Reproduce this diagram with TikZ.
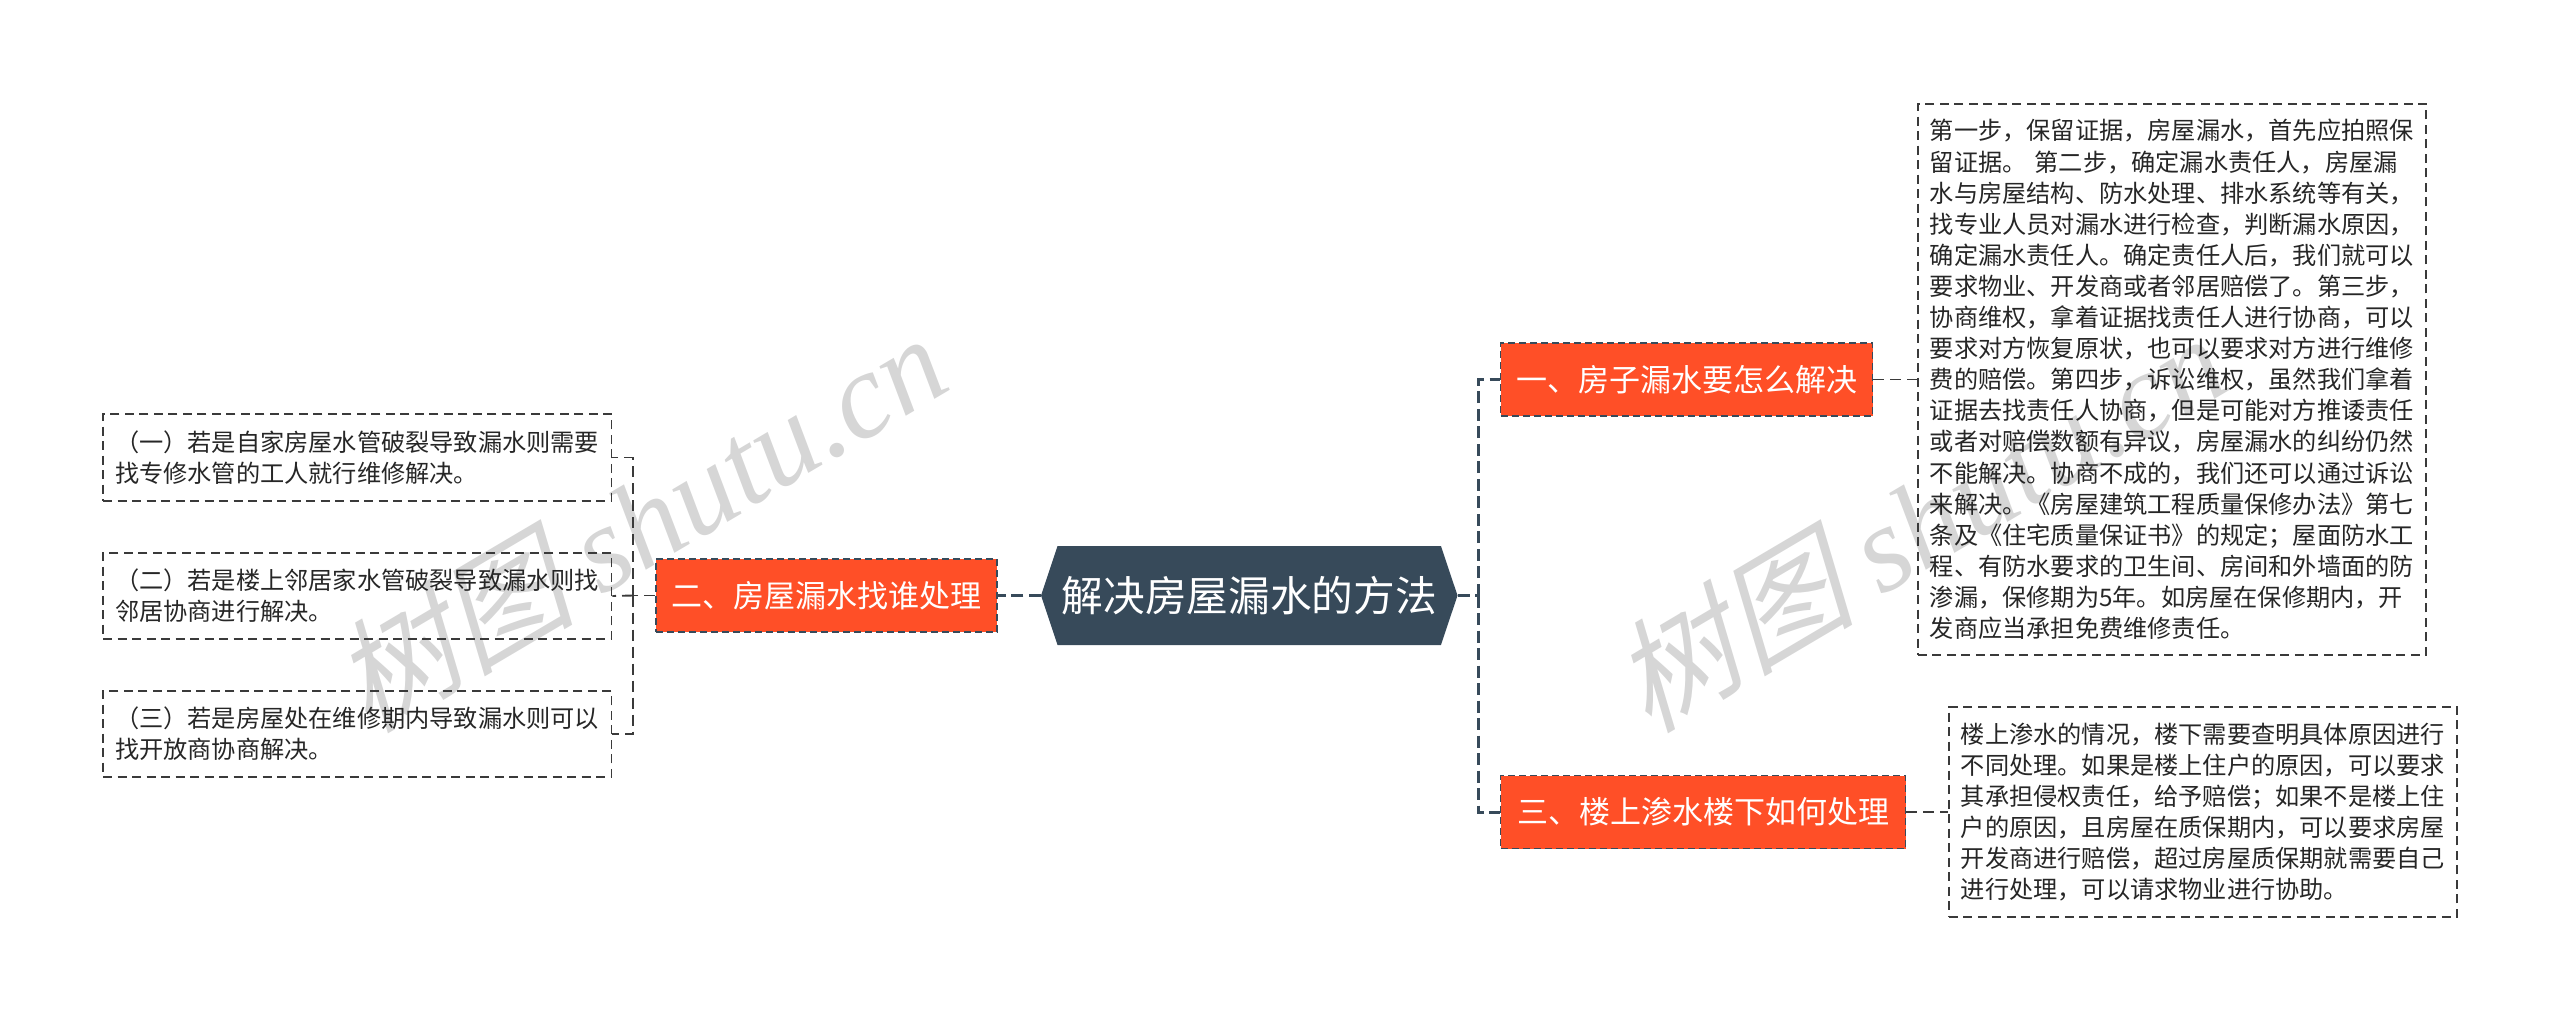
\documentclass[tikz,border=0pt]{standalone}
\usepackage{fontspec}
\usepackage{tikz}
\usetikzlibrary{shapes.symbols}
\setmainfont{Noto Sans CJK SC}
\newfontfamily\kaimark[FakeSlant=0.25]{Noto Sans CJK SC}
\newfontfamily\latinmark{Liberation Serif}[ItalicFont={Liberation Serif Italic}]
\definecolor{hubblue}{HTML}{374A5A}
\definecolor{branchred}{HTML}{FF4F27}
\definecolor{boxline}{HTML}{3A3A3A}
\definecolor{bodytext}{HTML}{262626}
\definecolor{markgray}{HTML}{D6D6D6}
\tikzset{
	hubnode/.style={signal, signal to=west and east, signal pointer angle=143, fill=hubblue, text=white, inner sep=0pt, minimum width=416.5pt, minimum height=99pt, font=\fontsize{41.7}{48}\selectfont},
	branchnode/.style={draw=hubblue, fill=branchred, text=white, line width=1.8pt, dash pattern=on 7pt off 4pt, minimum height=73pt, inner sep=0pt, font=\fontsize{31}{38}\selectfont},
	leafnode/.style={draw=boxline, line width=1.9pt, dash pattern=on 9pt off 5.5pt, align=left, inner xsep=12pt, inner ysep=0pt, text=bodytext, text width=484.4pt, font=\fontsize{24.2}{31.1}\selectfont},
	hublink/.style={draw=hubblue, line width=3pt, dash pattern=on 12pt off 5.5pt},
	leaflink/.style={draw=boxline, line width=1.9pt, dash pattern=on 11pt off 6pt},
	markstyle/.style={text=markgray, rotate=30.6, inner sep=0pt},
}
\begin{document}
\begin{tikzpicture}[x=1pt, y=-1pt]
		\useasboundingbox (0,0) rectangle (2560,1021);

		\node[markstyle] (markleft) at (638,521) {\fontsize{122}{130}\selectfont\kaimark 树图 \latinmark\itshape shutu.cn};
		\node[markstyle] (markright) at (1918,521) {\fontsize{122}{130}\selectfont\kaimark 树图 \latinmark\itshape shutu.cn};

		\node[hubnode] (hub) at (1249.25,595.5) {解决房屋漏水的方法};

		\node[branchnode, minimum width=372pt] (fixbranch) at (1686.5,379.5) {一、房子漏水要怎么解决};
		\node[branchnode, minimum width=341pt] (whobranch) at (826.5,595.5) {二、房屋漏水找谁处理};
		\node[branchnode, minimum width=405pt] (floorbranch) at (1703,812) {三、楼上渗水楼下如何处理};

		\node[leafnode, minimum height=551pt] (fixleaf) at (2172,379.5) {
			第一步，保留证据，房屋漏水，首先应拍照保\\
			留证据。 第二步，确定漏水责任人，房屋漏\\
			水与房屋结构、防水处理、排水系统等有关，\\
			找专业人员对漏水进行检查，判断漏水原因，\\
			确定漏水责任人。确定责任人后，我们就可以\\
			要求物业、开发商或者邻居赔偿了。第三步，\\
			协商维权，拿着证据找责任人进行协商，可以\\
			要求对方恢复原状，也可以要求对方进行维修\\
			费的赔偿。第四步，诉讼维权，虽然我们拿着\\
			证据去找责任人协商，但是可能对方推诿责任\\
			或者对赔偿数额有异议，房屋漏水的纠纷仍然\\
			不能解决。协商不成的，我们还可以通过诉讼\\
			来解决。《房屋建筑工程质量保修办法》第七\\
			条及《住宅质量保证书》的规定；屋面防水工\\
			程、有防水要求的卫生间、房间和外墙面的防\\
			渗漏，保修期为5年。如房屋在保修期内，开\\
			发商应当承担免费维修责任。
		};

		\node[leafnode, minimum height=210pt] (floorleaf) at (2203,812) {
			楼上渗水的情况，楼下需要查明具体原因进行\\
			不同处理。如果是楼上住户的原因，可以要求\\
			其承担侵权责任，给予赔偿；如果不是楼上住\\
			户的原因，且房屋在质保期内，可以要求房屋\\
			开发商进行赔偿，超过房屋质保期就需要自己\\
			进行处理，可以请求物业进行协助。
		};

		\node[leafnode, minimum height=87pt] (ownleaf) at (357.25,457.5) {
			（一）若是自家房屋水管破裂导致漏水则需要\\
			找专修水管的工人就行维修解决。
		};
		\node[leafnode, minimum height=86pt] (upleaf) at (357.25,596) {
			（二）若是楼上邻居家水管破裂导致漏水则找\\
			邻居协商进行解决。
		};
		\node[leafnode, minimum height=86pt] (termleaf) at (357.25,734) {
			（三）若是房屋处在维修期内导致漏水则可以\\
			找开放商协商解决。
		};

		\coordinate (rightspine) at (1478,595.5);
		\coordinate (leftspine) at (633,595.5);

		\draw[hublink] (hub.east) -- (rightspine);
		\draw[hublink] (rightspine) |- (fixbranch.west);
		\draw[hublink] (rightspine) |- (floorbranch.west);
		\draw[hublink] (hub.west) -- (whobranch.east);

		\draw[leaflink] (fixbranch.east) -- (fixleaf.west);
		\draw[leaflink] (floorbranch.east) -- (floorleaf.west);

		\draw[leaflink] (whobranch.west) -- (leftspine);
		\draw[leaflink] (leftspine) -- (upleaf.east);
		\draw[leaflink] (leftspine) |- (ownleaf.east);
		\draw[leaflink] (leftspine) |- (termleaf.east);

	\end{tikzpicture}
\end{document}
